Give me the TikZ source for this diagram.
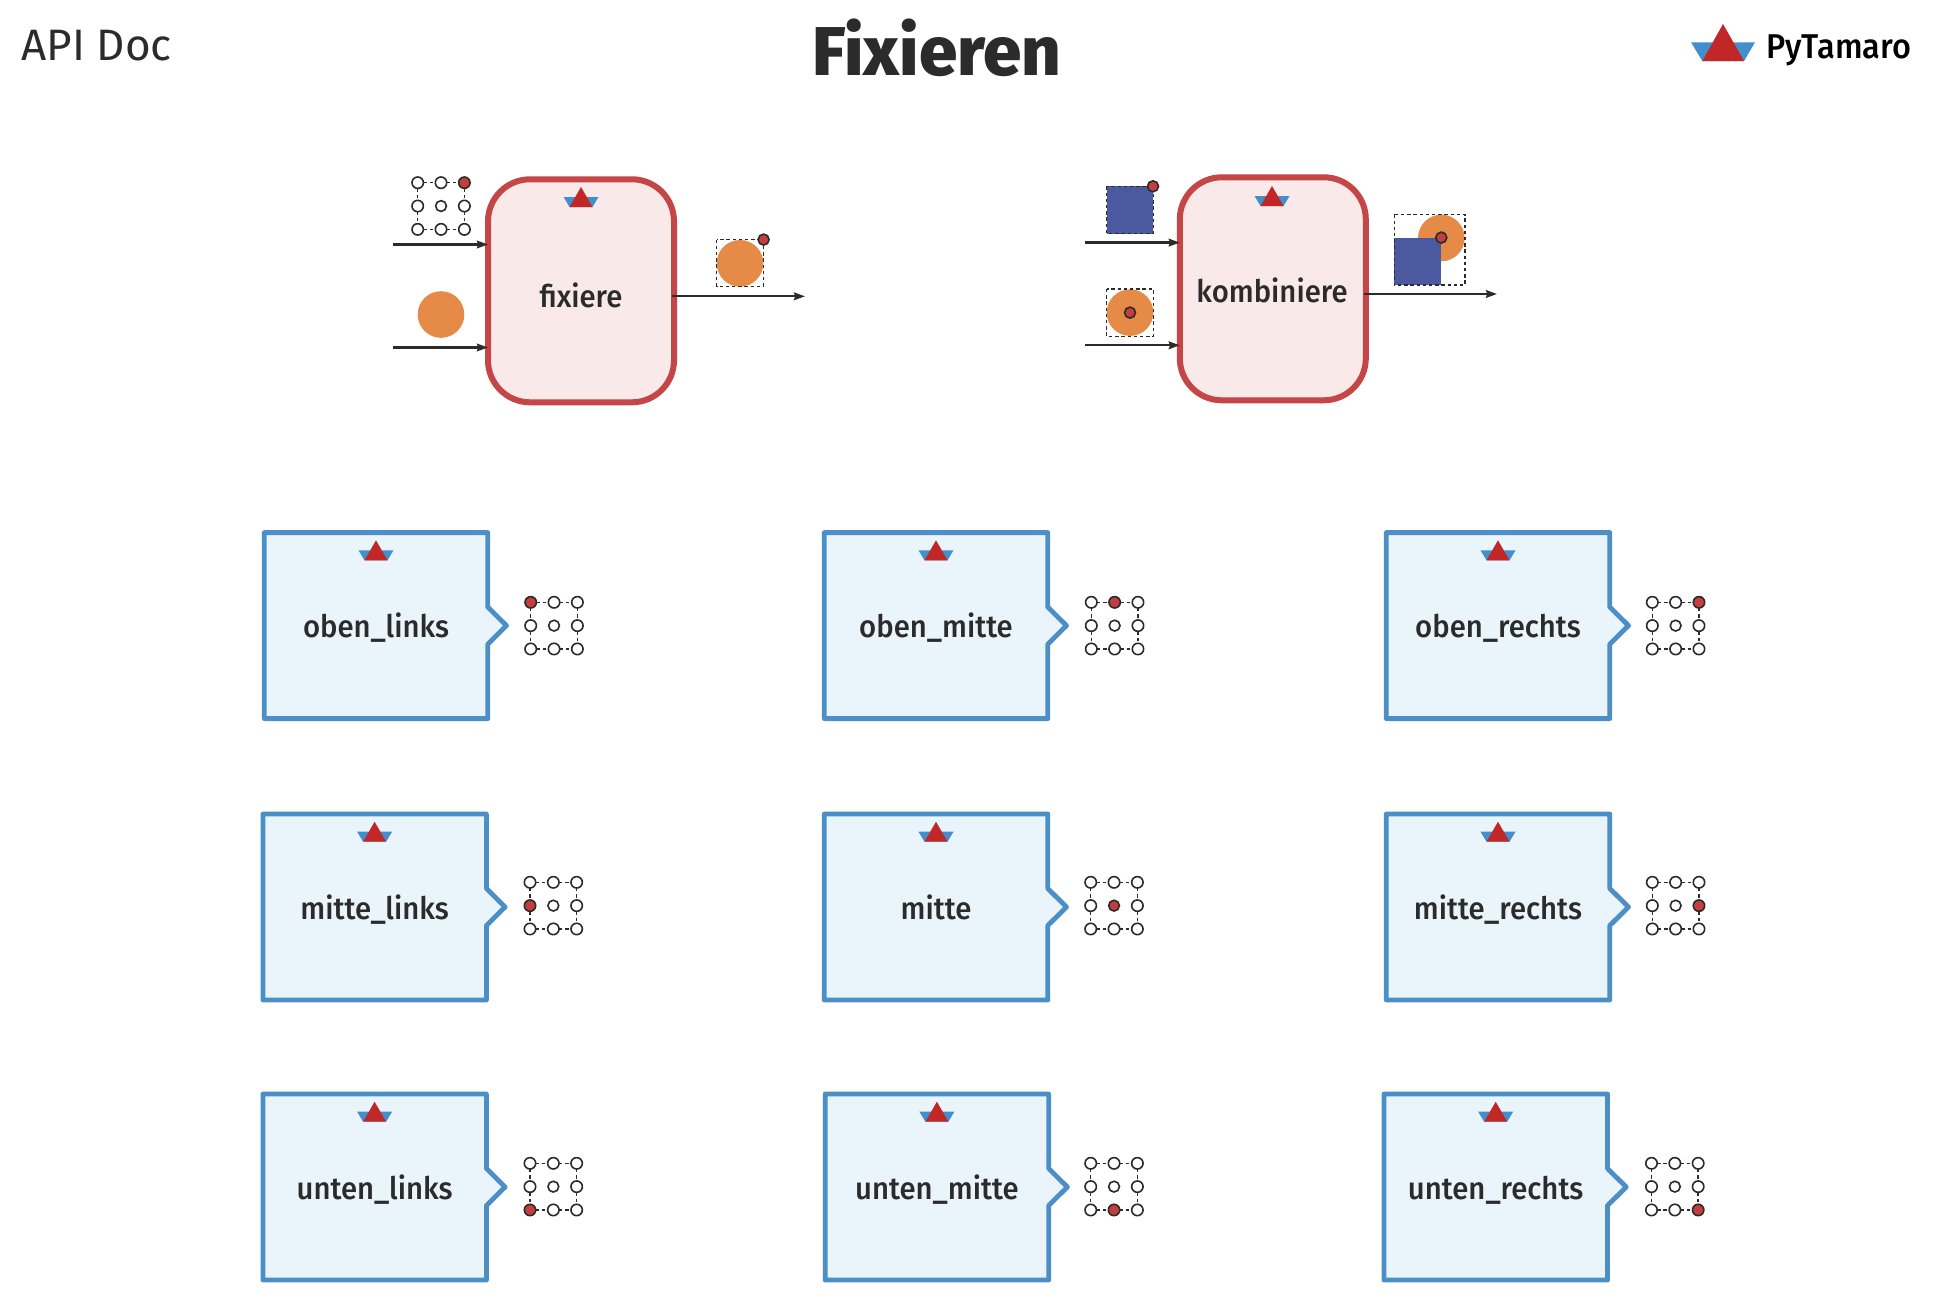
\documentclass[tikz,border=0pt]{standalone}
\usepackage{fontspec}
\setmainfont{Fira Sans}
\newfontfamily\firalabel[FakeStretch=0.945]{Fira Sans Medium}
\newfontfamily\firaheavy{Fira Sans ExtraBold}
\usetikzlibrary{arrows.meta}
\definecolor{txt}{HTML}{2B2B2B}
\definecolor{fnred}{HTML}{C44646}
\definecolor{fnredfill}{HTML}{F9E9E9}
\definecolor{apiblue}{HTML}{4C8EC6}
\definecolor{apibluefill}{HTML}{E9F4FB}
\definecolor{boatred}{HTML}{C22727}
\definecolor{boatblue}{HTML}{438FCB}
\definecolor{imgorange}{HTML}{E68B47}
\definecolor{imgblue}{HTML}{4B5AA0}
\definecolor{pinred}{HTML}{C43E3E}
\tikzset{
  x=0.5pt,y=-0.5pt,
  fnbox/.style={draw=fnred,fill=fnredfill,line width=3pt,rounded corners=21pt,minimum width=93pt,minimum height=111.5pt,inner sep=0,outer sep=0},
  fnlabel/.style={font=\firalabel\fontsize{15.5}{16}\selectfont,text=txt,inner sep=0,anchor=base},
  apistyle/.style={draw=apiblue,fill=apibluefill,line width=2.4pt,line join=round},
  gridpin/.style={circle,draw=txt,line width=0.8pt,inner sep=0,outer sep=0},
  griddash/.style={draw=txt,line width=0.7pt,dash pattern=on 1.7pt off 1.4pt},
  imgdash/.style={draw=txt,line width=0.7pt,dash pattern=on 1.7pt off 1.4pt},
  flow/.style={draw=txt,line width=1.15pt,-{Stealth[length=5.5pt,width=3.8pt,inset=0.6pt]}},
  imgdot/.style={circle,fill=pinred,draw=txt,line width=0.8pt,minimum size=5.5pt,inner sep=0,outer sep=0},
}
\newcommand\boaticon[2]{%
  \fill[boatblue] ({#1-17.5},{#2+10}) -- ({#1+17.5},{#2+10}) -- ({#1+11.5},{#2+20}) -- ({#1-11.5},{#2+20}) -- cycle;
  \fill[boatred] (#1,#2) -- ({#1+11.5},{#2+20}) -- ({#1-11.5},{#2+20}) -- cycle;
}
% prefix, x0, y0, red column, red row
\newcommand\pingrid[5]{%
  \foreach \gi in {0,1,2}{\foreach \gj in {0,1,2}{%
    \edef\pfill{\ifnum\gi=#4 \ifnum\gj=#5 pinred\else white\fi\else white\fi}%
    \edef\psize{\ifnum\gi=1 \ifnum\gj=1 5.4\else 5.7\fi\else 5.7\fi pt}%
    \node[gridpin,fill=\pfill,minimum size=\psize] (#1-\gi-\gj) at ({#2+\gi*23.33},{#3+\gj*23.33}) {};
  }}%
  \draw[griddash] (#1-0-0) -- (#1-1-0);
  \draw[griddash] (#1-1-0) -- (#1-2-0);
  \draw[griddash] (#1-0-2) -- (#1-1-2);
  \draw[griddash] (#1-1-2) -- (#1-2-2);
  \draw[griddash] (#1-0-0) -- (#1-0-1);
  \draw[griddash] (#1-0-1) -- (#1-0-2);
  \draw[griddash] (#1-2-0) -- (#1-2-1);
  \draw[griddash] (#1-2-1) -- (#1-2-2);
}
% name, left, top, label, grid x, grid y, red col, red row
\newcommand\apibox[8]{%
  \draw[apistyle] (#2,#3) -- ++(223.5,0) -- ++(0,74.5) -- ++(18.7,18.5) -- ++(-18.7,18.5) -- ++(0,74.5) -- ++(-223.5,0) -- cycle;
  \boaticon{#2+111.7}{#3+7.7}
  \node[fnlabel] (#1) at ({#2+111.7},{#3+105.2}) {#4};
  \pingrid{#1g}{#5}{#6}{#7}{#8}
}
\begin{document}
\begin{tikzpicture}
\path[use as bounding box,fill=white] (0,0) rectangle (1938,1306);

% header
\node[inner sep=0,anchor=base west,text=txt,font=\fontsize{22}{22}\selectfont] (apidoc) at (21,60.5) {API Doc};
\node[inner sep=0,anchor=base,text=txt,font=\firaheavy\fontsize{34.5}{35}\selectfont] (title) at (937,75) {Fixieren};
\fill[boatblue] (1691,42.3) -- (1755,42.3) -- (1744,61) -- (1702.3,61) -- cycle;
\fill[boatred] (1723,24) -- (1744,61) -- (1702.3,61) -- cycle;
\node[inner sep=0,anchor=base west,text=black,font=\firalabel\fontsize{17.2}{18}\selectfont] (brand) at (1766,58) {PyTamaro};

% fixiere
\node[fnbox] (fix) at (581,290.8) {};
\boaticon{581}{187}
\node[fnlabel] (fixlabel) at (581,307) {fixiere};
\coordinate (fixin1) at (393,244.5);
\coordinate (fixin2) at (393,347.5);
\coordinate (fixout) at (805,296.3);
\draw[flow] (fixin1) -- (fix.west |- fixin1);
\draw[flow] (fixin2) -- (fix.west |- fixin2);
\draw[flow] ([xshift=-0.8pt]fix.east |- fixout) -- (fixout);
\pingrid{fixg}{417.7}{182.7}{2}{0}
\fill[imgorange] (441,314.5) circle[radius=23.3];
\fill[imgorange] (740,263.3) circle[radius=23.3];
\draw[imgdash] (716.7,239.6) rectangle (763.3,286.3);
\node[imgdot] (fixdot) at (763.6,239.6) {};

% kombiniere
\node[fnbox] (kom) at (1272.8,288.8) {};
\boaticon{1272}{186}
\node[fnlabel] (komlabel) at (1272,302.7) {kombiniere};
\coordinate (komin1) at (1085,242.6);
\coordinate (komin2) at (1085,345.3);
\coordinate (komout) at (1497,294);
\draw[flow] (komin1) -- (kom.west |- komin1);
\draw[flow] (komin2) -- (kom.west |- komin2);
\draw[flow] ([xshift=-0.8pt]kom.east |- komout) -- (komout);
\fill[imgblue] (1106.7,186.3) rectangle (1153.3,233.6);
\draw[imgdash] (1106.7,186.3) rectangle (1153.3,233.6);
\node[imgdot] (komdota) at (1153,186.3) {};
\fill[imgorange] (1130,312.6) circle[radius=23.3];
\draw[imgdash] (1106.7,289) rectangle (1153.3,336.3);
\node[imgdot] (komdotb) at (1130,312.6) {};
\fill[imgorange] (1441.3,238) circle[radius=23.3];
\fill[imgblue] (1394.3,237.6) rectangle (1441.3,285);
\draw[imgdash] (1394.3,214.3) rectangle (1465,285);
\node[imgdot] (komdotc) at (1441.3,237.6) {};

% API boxes
\apibox{ol}{264.3}{532.6}{oben\_links}{530.7}{602.3}{0}{0}
\apibox{om}{824.3}{532.6}{oben\_mitte}{1091.3}{602.3}{1}{0}
\apibox{or}{1386.3}{532.6}{oben\_rechts}{1652.3}{602.3}{2}{0}
\apibox{ml}{262.9}{814}{mitte\_links}{530}{882.3}{0}{1}
\apibox{mm}{824.3}{814}{mitte}{1090.7}{882.3}{1}{1}
\apibox{mr}{1386.3}{814}{mitte\_rechts}{1652.3}{882.3}{2}{1}
\apibox{ul}{262.9}{1094}{unten\_links}{530}{1163.3}{0}{2}
\apibox{um}{825.2}{1094}{unten\_mitte}{1090.7}{1163.3}{1}{2}
\apibox{ur}{1384}{1094}{unten\_rechts}{1651.5}{1163.3}{2}{2}
\end{tikzpicture}
\end{document}
